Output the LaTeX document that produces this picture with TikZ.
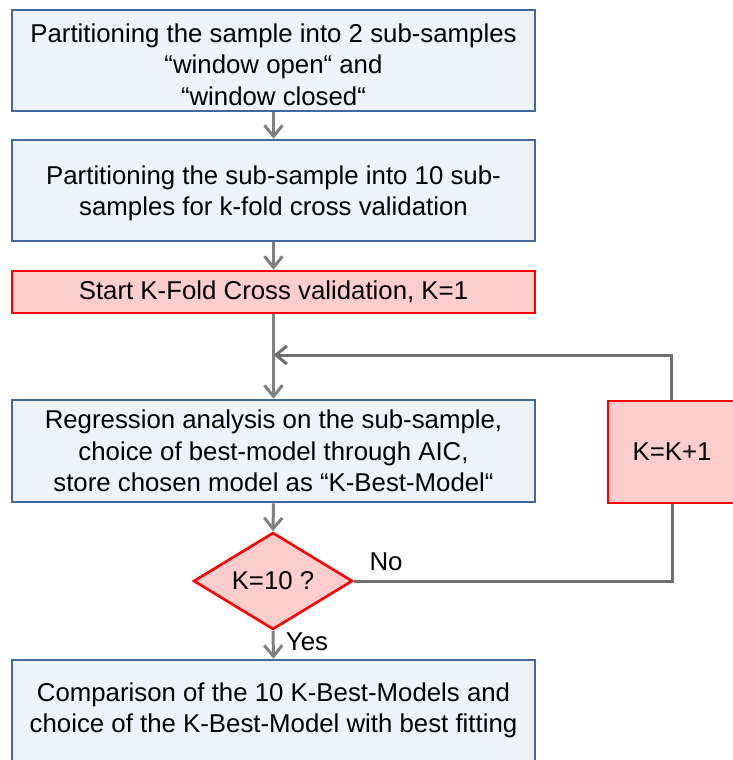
\documentclass[tikz,border=0pt]{standalone}
\usepackage{fontspec}
\setmainfont{Liberation Sans}
\usetikzlibrary{arrows.meta,shapes.geometric}
\definecolor{bfill}{HTML}{EEF3FA}
\definecolor{bdraw}{HTML}{41699E}
\definecolor{rfill}{HTML}{FCCDCD}
\definecolor{rdraw}{HTML}{FF0000}
\definecolor{conngray}{HTML}{808080}
\definecolor{loopgray}{HTML}{6E6E6E}
\tikzset{
  txt/.style={font=\fontsize{25.8}{31.5}\selectfont},
  bluebox/.style={draw=bdraw, fill=bfill, line width=2.6pt, rectangle, align=center,
    minimum width=523pt, minimum height=101pt, inner sep=0pt, txt},
  redbox/.style={draw=rdraw, fill=rfill, line width=2.6pt, rectangle, align=center,
    inner sep=0pt, txt},
  decision/.style={draw=rdraw, fill=rfill, line width=2.6pt, diamond, aspect=1.64,
    minimum width=159pt, minimum height=97pt, inner sep=0pt, txt},
  tip/.style={-{Straight Barb[length=11pt,width=18pt,line width=3pt]}},
  conn/.style={draw=conngray, line width=3pt, tip},
  loopline/.style={draw=loopgray, line width=3pt},
  lbl/.style={txt, inner sep=0pt}
}
\begin{document}
\begin{tikzpicture}[x=1pt,y=-1pt]
\useasboundingbox (0,0) rectangle (732,760);
\node[bluebox] (b1) at (273.5,60.5) {\\[-5pt]Partitioning the sample into 2 sub-samples\\“window open“ and\\“window closed“};
\node[bluebox] (b2) at (273.5,190.5) {\\[-7pt]Partitioning the sub-sample into 10 sub-\\samples for k-fold cross validation};
\node[redbox, minimum width=523pt, minimum height=42pt] (start) at (273.5,292) {Start K-Fold Cross validation, K=1};
\node[bluebox, minimum height=102pt] (b3) at (273.5,451) {Regression analysis on the sub-sample,\\choice of best-model through AIC,\\store chosen model as “K-Best-Model“};
\node[redbox, minimum width=128pt, minimum height=102pt] (inc) at (672,452) {K=K+1};
\node[decision] (dec) at (273,581) {K=10 ?};
\node[bluebox] (b4) at (273.5,710.5) {Comparison of the 10 K-Best-Models and\\choice of the K-Best-Model with best fitting};
\coordinate (join) at (273.5,355);
\draw[conn] (b1.south) -- (b2.north);
\draw[conn] (b2.south) -- (start.north);
\draw[conn] (start.south) -- (b3.north);
\draw[loopline, tip] (inc.north -| 671,0) |- (join);
\draw[conn] (b3.south) -- (dec.north);
\draw[loopline] (dec.east) -| (inc.south -| 672,0);
\draw[conn] (dec.south) -- (b4.north);
\node[lbl] (no) at (386,562) {No};
\node[lbl] (yes) at (307,642) {Yes};
\end{tikzpicture}
\end{document}
